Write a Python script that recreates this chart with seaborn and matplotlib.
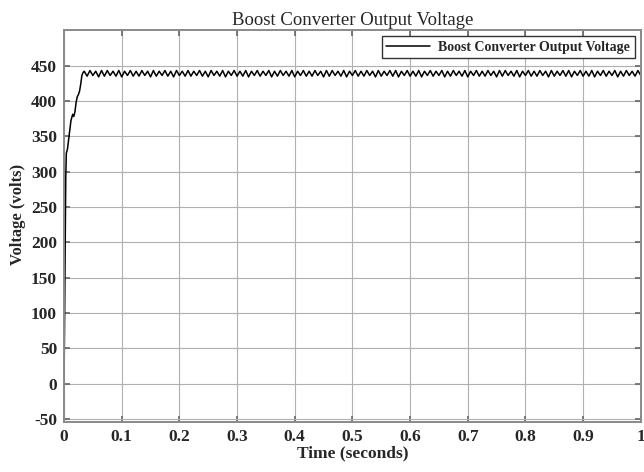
import numpy as np
import pandas as pd
import matplotlib
matplotlib.use("Agg")
import matplotlib.pyplot as plt
import seaborn as sns

# Start-up transient of the boost converter output (seconds, volts)
transient_t = [0.0, 0.001, 0.002, 0.003, 0.004, 0.006, 0.009, 0.012, 0.015,
               0.017, 0.019, 0.021, 0.023, 0.025, 0.027, 0.029, 0.031, 0.033]
transient_v = [0, 90, 200, 290, 326, 332, 352, 372, 381,
               378, 385, 398, 406, 409, 414, 424, 436, 440]

# Steady-state ripple: alternating peak / trough values, one every half cycle
ripple_start, ripple_end = 0.035, 1.0
ripple_v = [
    442, 435, 443, 436, 442, 434, 443, 435, 443, 436, 442, 435, 443, 434, 442, 436, 443, 435, 442, 435,
    443, 436, 442, 434, 443, 435, 442, 436, 443, 435, 442, 434, 443, 436, 442, 435, 443, 435, 442, 436,
    443, 435, 442, 434, 443, 436, 442, 435, 443, 434, 442, 436, 443, 435, 442, 435, 443, 434, 442, 436,
    443, 435, 442, 436, 443, 434, 442, 435, 443, 436, 442, 435, 443, 434, 442, 436, 443, 435, 442, 435,
    443, 436, 442, 434, 443, 435, 443, 436, 442, 435, 443, 434, 442, 436, 443, 435, 442, 435, 443, 436,
    442, 434, 443, 435, 442, 436, 443, 435, 443, 434, 442, 436, 443, 435, 442, 435, 443, 434, 442, 436,
    443, 435, 442, 436, 443, 434, 442, 435, 443, 436, 442, 435, 443, 434, 442, 436, 443, 435, 442, 435,
    443, 436, 442, 434, 443, 435, 443, 436, 442, 435, 443, 434, 442, 436, 443, 435, 442, 435, 443, 436,
    442, 434, 443, 435, 442, 436, 443, 435, 443, 434, 442, 436, 443, 435, 442, 435, 443, 434, 442, 436,
    443, 435, 442, 436, 443, 434, 442, 435, 443, 436, 442, 435, 443, 436,
]

x_ticks = [0, 0.1, 0.2, 0.3, 0.4, 0.5, 0.6, 0.7, 0.8, 0.9, 1]
x_labels = ["0", "0.1", "0.2", "0.3", "0.4", "0.5", "0.6", "0.7", "0.8", "0.9", "1"]
y_ticks = [-50, 0, 50, 100, 150, 200, 250, 300, 350, 400, 450]

ripple_t = np.linspace(ripple_start, ripple_end, len(ripple_v))
df = pd.DataFrame({
    "t": np.concatenate([transient_t, ripple_t]),
    "v": np.concatenate([transient_v, ripple_v]),
})

sns.set_theme(style="whitegrid")
plt.rcParams["font.family"] = ["Liberation Serif", "DejaVu Serif"]
plt.rcParams["axes.unicode_minus"] = False

fig = plt.figure(figsize=(6.44, 4.72), dpi=100)
ax = fig.add_axes([0.0994, 0.106, 0.8956, 0.830])

sns.lineplot(data=df, x="t", y="v", ax=ax, color="black", linewidth=1.1,
             label="Boost Converter Output Voltage", sort=False, estimator=None)

ax.set_xlim(0, 1)
ax.set_ylim(-54, 500)
ax.set_xticks(x_ticks)
ax.set_xticklabels(x_labels)
ax.set_yticks(y_ticks)

for lab in ax.get_xticklabels() + ax.get_yticklabels():
    lab.set_fontweight("bold")
    lab.set_fontsize(12.5)

ax.grid(True, color="#b0b0b0", linewidth=0.8)
for s in ax.spines.values():
    s.set_visible(True)
    s.set_color("#8a8a8a")
    s.set_linewidth(1.4)
ax.tick_params(axis="both", direction="in", length=4, color="#6a6a6a",
               pad=5, top=True, right=True, bottom=True, left=True)

ax.set_xlabel("Time (seconds)", fontsize=12.5, fontweight="bold", labelpad=0)
ax.set_ylabel("Voltage (volts)", fontsize=12, fontweight="bold")
ax.yaxis.set_label_coords(-0.066, 0.53)
ax.set_title("Boost Converter Output Voltage", fontsize=13.5, pad=4)

leg = ax.legend(loc="upper right", handlelength=3.2, handletextpad=0.6,
                prop={"weight": "bold", "size": 10}, fancybox=False,
                framealpha=1, borderpad=0.3, borderaxespad=0.45)
leg.get_frame().set_edgecolor("#333333")
leg.get_frame().set_linewidth(1.0)

fig.savefig("out.png", dpi=100)
